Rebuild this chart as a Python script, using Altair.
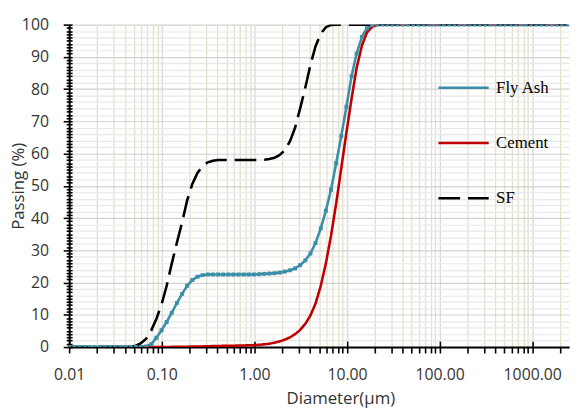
import altair as alt
import pandas as pd

# particle diameters (um), log-spaced size classes
diameters = [0.010, 0.0114, 0.0129, 0.0147, 0.0167, 0.0189, 0.0215, 0.0244, 0.0278, 0.0315,
             0.0358, 0.0407, 0.0463, 0.0526, 0.0597, 0.0679, 0.0771, 0.0876, 0.0995, 0.113,
             0.128, 0.146, 0.166, 0.188, 0.214, 0.243, 0.276, 0.314, 0.357, 0.405,
             0.460, 0.523, 0.594, 0.675, 0.767, 0.872, 0.991, 1.13, 1.28, 1.45,
             1.65, 1.88, 2.13, 2.42, 2.75, 3.12, 3.55, 4.03, 4.58, 5.21,
             5.92, 6.72, 7.64, 8.68, 9.86, 11.2, 12.7, 14.5, 16.4, 18.7,
             21.2, 24.1, 27.4, 31.1, 35.3, 40.1, 45.6, 51.8, 58.9, 66.9,
             76.0, 86.4, 98.1, 111, 127, 144, 163, 186, 211, 240,
             272, 310, 352, 400, 454, 516, 586, 666, 756, 859,
             976, 1110, 1260, 1430, 1630, 1850, 2100, 2390]

fly_ash = [0, 0, 0, 0, 0, 0, 0, 0, 0, 0,
           0, 0, 0, 0, 0.05, 0.2, 0.9, 2.9, 5.2, 7.8,
           10.6, 13.7, 16.5, 19.0, 20.8, 21.8, 22.3, 22.5, 22.5, 22.5,
           22.5, 22.5, 22.5, 22.5, 22.5, 22.5, 22.5, 22.6, 22.7, 22.8,
           22.9, 23.1, 23.4, 23.8, 24.4, 25.4, 26.9, 29.0, 32.3, 36.8,
           42.3, 48.8, 57.0, 65.5, 74.5, 84.0, 91.0, 96.2, 98.9, 99.8,
           100, 100, 100, 100, 100, 100, 100, 100, 100, 100,
           100, 100, 100, 100, 100, 100, 100, 100, 100, 100,
           100, 100, 100, 100, 100, 100, 100, 100, 100, 100,
           100, 100, 100, 100, 100, 100, 100, 100]

cement = [None, None, None, None, None, None, 0, 0, 0, 0,
          0, 0, 0, 0, 0, 0, 0, 0, 0, 0.02,
          0.05, 0.08, 0.1, 0.12, 0.15, 0.18, 0.2, 0.25, 0.3, 0.33,
          0.37, 0.4, 0.42, 0.45, 0.5, 0.55, 0.6, 0.7, 0.85, 1.05,
          1.35, 1.75, 2.3, 3.0, 4.0, 5.3, 7.2, 9.8, 13.5, 19.0,
          26.0, 34.5, 44.5, 55.5, 66.5, 77.0, 86.5, 93.5, 97.5, 99.3,
          99.9, 100, 100, 100, 100, 100, 100, 100, 100, 100,
          100, 100, 100, 100, 100, 100, 100, 100, 100, 100,
          100, 100, 100, 100, 100, 100, 100, 100, 100, 100,
          100, 100, 100, 100, 100, 100, 100, 100]

sf = [0, 0, 0, 0, 0, 0, 0, 0, 0, 0,
      0, 0, 0.1, 0.4, 1.2, 2.6, 5.2, 8.8, 13.2, 19.0,
      25.8, 32.5, 38.7, 45.5, 50.6, 54.0, 56.2, 57.3, 57.8, 58.0,
      58.0, 58.0, 58.0, 58.0, 58.0, 58.0, 58.0, 58.0, 58.1, 58.3,
      58.7, 59.6, 61.0, 63.8, 68.0, 74.0, 80.5, 87.5, 93.3, 97.2,
      99.2, 99.9, 100, 100, 100, 100, 100, 100, 100, 100,
      100, 100, 100, 100, 100, 100, 100, 100, 100, 100,
      100, 100, 100, 100, 100, 100, 100, 100, 100, 100,
      100, 100, 100, 100, 100, 100, 100, 100, 100, 100,
      100, 100, 100, 100, 100, 100, 100, 100]

series_names = ["Fly Ash", "Cement", "SF"]
series_colors = ["#3b8fa6", "#c00000", "#000000"]
series_dashes = [[1, 0], [1, 0], [22, 8]]

decade_ticks = [0.01, 0.1, 1, 10, 100, 1000]
x_tick_values = [round(m * d, 6) for d in decade_ticks for m in range(1, 10) if m * d <= 2500]
y_tick_values = list(range(0, 101))

rows = []
for name, vals in zip(series_names, [fly_ash, cement, sf]):
    for d, v in zip(diameters, vals):
        if v is not None:
            rows.append({"Diameter": d, "Passing": v, "Series": name})
df = pd.DataFrame(rows)

is_decade = "abs(log(datum.value)/LN10 - round(log(datum.value)/LN10)) < 1e-6"
label_font = "Open Sans"
label_color = "#333333"

x_scale = alt.Scale(type="log", domain=[0.01, 2500], nice=False)
y_scale = alt.Scale(domain=[0, 100], nice=False)

x_axis_main = alt.Axis(
    values=x_tick_values,
    labelExpr=f"({is_decade}) ? format(datum.value, '.2f') : ''",
    labelOverlap=False, labelFlush=False, labelBound=False,
    labelFont=label_font, labelFontSize=16, labelColor=label_color, labelPadding=14,
    tickSize=6, tickColor="black", tickWidth=1.6,
    domainColor="black", domainWidth=2,
    gridColor={"condition": {"test": is_decade, "value": "#d9d9de"}, "value": "#e6dfca"},
    gridWidth=1.3,
    title="Diameter(\u03bcm)", titleFont=label_font, titleFontSize=17,
    titleFontWeight="normal", titleColor=label_color, titlePadding=8, titleX=275,
)
y_axis_main = alt.Axis(
    values=y_tick_values,
    labelExpr="datum.value % 10 == 0 ? datum.label : ''",
    labelOverlap=False, labelBound=False, labelFlush=False,
    labelFont=label_font, labelFontSize=16, labelColor=label_color, labelPadding=15,
    tickSize={"condition": {"test": "datum.value % 10 == 0", "value": 6}, "value": 3},
    tickColor="black", tickWidth=1.6,
    domainColor="black", domainWidth=2,
    gridOpacity={"condition": {"test": "datum.value % 2 == 0", "value": 1}, "value": 0},
    gridColor={"condition": {"test": "datum.value % 10 == 0", "value": "#d2d2d2"}, "value": "#e8e8e8"},
    gridWidth=1.2,
    title="Passing (%)", titleFont=label_font, titleFontSize=17,
    titleFontWeight="normal", titleColor=label_color, titleX=-42,
)
x_axis_inner = alt.Axis(
    orient="bottom", values=decade_ticks, offset=-6, tickSize=6, tickColor="black", tickWidth=1.6,
    domain=False, labels=False, grid=False, title=None,
)
y_axis_inner = alt.Axis(
    orient="left", values=y_tick_values, offset=-3,
    tickSize={"condition": {"test": "datum.value % 10 == 0", "value": 3}, "value": 3},
    tickColor="black", tickWidth=1.6,
    domain=False, labels=False, grid=False, title=None,
)

legend_cfg = dict(
    title=None, orient="none", legendX=373, legendY=37,
    symbolType="stroke", symbolSize=2600, symbolStrokeWidth=2.6,
    labelFont="Liberation Serif", labelFontSize=17, labelColor="black",
    labelOffset=6, rowPadding=21, padding=0,
)

lines = alt.Chart(df).mark_line(strokeWidth=2.6, clip=True).encode(
    x=alt.X("Diameter:Q", scale=x_scale, axis=x_axis_main),
    y=alt.Y("Passing:Q", scale=y_scale, axis=y_axis_main),
    color=alt.Color("Series:N", sort=series_names,
                    scale=alt.Scale(domain=series_names, range=series_colors),
                    legend=alt.Legend(**legend_cfg)),
    strokeDash=alt.StrokeDash("Series:N", sort=series_names,
                              scale=alt.Scale(domain=series_names, range=series_dashes),
                              legend=alt.Legend(**legend_cfg)),
    order=alt.Order("Diameter:Q"),
)

points = alt.Chart(df).transform_filter(alt.datum.Series == "Fly Ash").mark_point(
    shape="square", filled=True, size=16, color="#3b8fa6", opacity=1, clip=True
).encode(
    x=alt.X("Diameter:Q", scale=x_scale, axis=x_axis_inner),
    y=alt.Y("Passing:Q", scale=y_scale, axis=y_axis_inner),
)

chart = alt.layer(lines, points).resolve_axis(x="independent", y="independent").properties(
    width=507, height=327,
    autosize=alt.AutoSizeParams(type="none"),
    padding={"left": 62, "top": 14, "right": 5, "bottom": 62},
).configure_view(stroke=None)

chart.save("out.html", embed_options={"renderer": "svg", "actions": False})
